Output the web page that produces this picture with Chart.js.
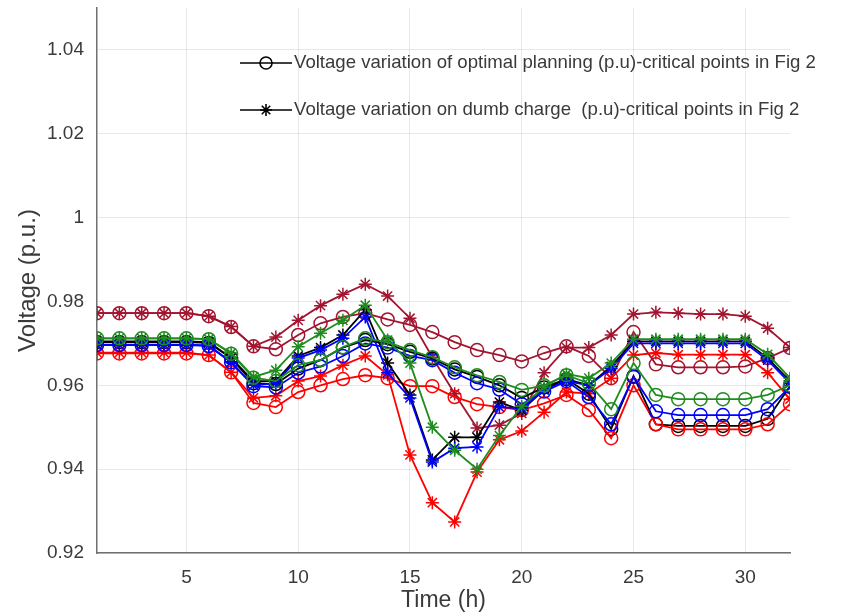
<!DOCTYPE html>
<html lang="en">
<head>
<meta charset="UTF-8">
<title>Voltage variation</title>
<script src="https://cdn.jsdelivr.net/npm/chart.js"></script>
<style>
  body { margin: 0; background: #fff; }
  .chart-box { width: 850px; height: 616px; }
</style>
</head>
<body>
<div class="chart-box"><canvas id="voltageChart" width="850" height="616"></canvas></div>
<script>
// x categories (hours) and axis ticks
const hours = [1, 2, 3, 4, 5, 6, 7, 8, 9, 10, 11, 12, 13, 14, 15, 16,
               17, 18, 19, 20, 21, 22, 23, 24, 25, 26, 27, 28, 29, 30, 31, 32];
const xTicks = [5, 10, 15, 20, 25, 30];
const yTicks = [0.92, 0.94, 0.96, 0.98, 1, 1.02, 1.04];

const legendLabels = [
    'Voltage variation of optimal planning (p.u)-critical points in Fig 2',
    'Voltage variation on dumb charge  (p.u)-critical points in Fig 2'
];

// optimal planning (circle markers)
const maroonOpt = [0.9772, 0.9772, 0.9772, 0.9772, 0.9772, 0.9765, 0.9739, 0.9693, 0.9686, 0.9720, 0.9748, 0.9763, 0.9772, 0.9757, 0.9744, 0.9727,
                   0.9703, 0.9684, 0.9672, 0.9657, 0.9677, 0.9693, 0.9670, 0.9617, 0.9727, 0.9650, 0.9643, 0.9643, 0.9643, 0.9645, 0.9665, 0.9689];
const greenOpt  = [0.9712, 0.9712, 0.9712, 0.9712, 0.9712, 0.9710, 0.9675, 0.9618, 0.9610, 0.9648, 0.9660, 0.9691, 0.9712, 0.9703, 0.9684, 0.9667,
                   0.9643, 0.9624, 0.9608, 0.9589, 0.9600, 0.9624, 0.9605, 0.9543, 0.9653, 0.9577, 0.9567, 0.9567, 0.9567, 0.9567, 0.9577, 0.9600];
const blackOpt  = [0.9703, 0.9703, 0.9703, 0.9703, 0.9703, 0.9701, 0.9665, 0.9605, 0.9603, 0.9640, 0.9660, 0.9690, 0.9708, 0.9698, 0.9680, 0.9664,
                   0.9638, 0.9620, 0.9600, 0.9570, 0.9595, 0.9615, 0.9580, 0.9496, 0.9622, 0.9507, 0.9503, 0.9503, 0.9503, 0.9503, 0.9520, 0.9598];
const blueOpt   = [0.9696, 0.9696, 0.9696, 0.9696, 0.9696, 0.9694, 0.9655, 0.9598, 0.9595, 0.9630, 0.9645, 0.9670, 0.9700, 0.9690, 0.9670, 0.9660,
                   0.9630, 0.9605, 0.9590, 0.9555, 0.9585, 0.9610, 0.9572, 0.9507, 0.9620, 0.9538, 0.9529, 0.9529, 0.9529, 0.9529, 0.9543, 0.9596];
const redOpt    = [0.9676, 0.9676, 0.9676, 0.9676, 0.9676, 0.9672, 0.9631, 0.9558, 0.9548, 0.9584, 0.9600, 0.9615, 0.9624, 0.9617, 0.9598, 0.9598,
                   0.9572, 0.9555, 0.9548, 0.9541, 0.9557, 0.9577, 0.9541, 0.9474, 0.9600, 0.9507, 0.9495, 0.9495, 0.9495, 0.9495, 0.9507, 0.9555];

// dumb charge (star markers)
const maroonDumb = [0.9772, 0.9772, 0.9772, 0.9772, 0.9772, 0.9765, 0.9740, 0.9693, 0.9715, 0.9755, 0.9790, 0.9817, 0.9841, 0.9813, 0.9760, 0.9667,
                    0.9580, 0.9498, 0.9505, 0.9533, 0.9630, 0.9690, 0.9690, 0.9720, 0.9770, 0.9774, 0.9772, 0.9770, 0.9770, 0.9765, 0.9736, 0.9690];
const greenDumb  = [0.9712, 0.9712, 0.9712, 0.9712, 0.9712, 0.9710, 0.9677, 0.9620, 0.9636, 0.9692, 0.9724, 0.9755, 0.9791, 0.9708, 0.9653, 0.9500,
                    0.9445, 0.9400, 0.9480, 0.9550, 0.9596, 0.9627, 0.9617, 0.9653, 0.9710, 0.9710, 0.9710, 0.9710, 0.9710, 0.9710, 0.9674, 0.9617];
const blackDumb  = [0.9705, 0.9705, 0.9705, 0.9705, 0.9705, 0.9703, 0.9665, 0.9610, 0.9610, 0.9670, 0.9690, 0.9720, 0.9780, 0.9653, 0.9577, 0.9422,
                    0.9476, 0.9476, 0.9560, 0.9540, 0.9590, 0.9615, 0.9600, 0.9645, 0.9705, 0.9705, 0.9705, 0.9705, 0.9705, 0.9705, 0.9665, 0.9610];
const blueDumb   = [0.9697, 0.9697, 0.9697, 0.9697, 0.9697, 0.9695, 0.9655, 0.9600, 0.9605, 0.9665, 0.9684, 0.9712, 0.9763, 0.9630, 0.9570, 0.9417,
                    0.9450, 0.9453, 0.9548, 0.9545, 0.9589, 0.9610, 0.9600, 0.9640, 0.9700, 0.9700, 0.9700, 0.9700, 0.9700, 0.9700, 0.9660, 0.9605];
const redDumb    = [0.9678, 0.9678, 0.9678, 0.9678, 0.9678, 0.9672, 0.9631, 0.9570, 0.9575, 0.9610, 0.9622, 0.9648, 0.9670, 0.9625, 0.9434, 0.9320,
                    0.9274, 0.9393, 0.9470, 0.9491, 0.9536, 0.9584, 0.9580, 0.9617, 0.9672, 0.9677, 0.9673, 0.9673, 0.9673, 0.9673, 0.9630, 0.9567];

const MAROON = '#A2142F';
const GREEN = '#1E8C1E';
const BLUE = '#0000FF';
const RED = '#FF0000';
const BLACK = '#000000';
const TEXT = '#3a3a3a';
const SANS = '"Liberation Sans", Arial, sans-serif';

function series(values, color, marker, order) {
    return {
        data: values.map((v, i) => ({ x: hours[i], y: v })),
        borderColor: color,
        backgroundColor: 'rgba(0,0,0,0)',
        borderWidth: 1.8,
        pointStyle: marker,
        pointRadius: 6.5,
        pointBorderWidth: 1.5,
        pointBorderColor: color,
        pointBackgroundColor: 'rgba(0,0,0,0)',
        tension: 0,
        order: order
    };
}

// black legend drawn inside the plot, like the original figure
const insideLegend = {
    id: 'insideLegend',
    afterDraw(chart) {
        const ctx = chart.ctx;
        const a = chart.chartArea;
        const x0 = a.left + 143;
        const rows = [a.top + 55, a.top + 102];
        ctx.save();
        ctx.strokeStyle = BLACK;
        ctx.lineWidth = 1.6;
        rows.forEach((y, i) => {
            ctx.beginPath();
            ctx.moveTo(x0, y);
            ctx.lineTo(x0 + 52, y);
            ctx.stroke();
            const cx = x0 + 26;
            ctx.beginPath();
            if (i === 0) {
                ctx.arc(cx, y, 6, 0, Math.PI * 2);
            } else {
                for (let k = 0; k < 4; k++) {
                    const ang = k * Math.PI / 4;
                    ctx.moveTo(cx - 6 * Math.cos(ang), y - 6 * Math.sin(ang));
                    ctx.lineTo(cx + 6 * Math.cos(ang), y + 6 * Math.sin(ang));
                }
            }
            ctx.stroke();
            ctx.fillStyle = TEXT;
            ctx.font = '18.6px ' + SANS;
            ctx.textBaseline = 'middle';
            ctx.fillText(legendLabels[i], x0 + 54, y);
        });
        ctx.restore();
    }
};

const ctx = document.getElementById('voltageChart').getContext('2d');
const myChart = new Chart(ctx, {
    type: 'line',
    data: {
        datasets: [
            series(greenDumb, GREEN, 'star', 1),
            series(greenOpt, GREEN, 'circle', 2),
            series(blueDumb, BLUE, 'star', 3),
            series(blueOpt, BLUE, 'circle', 4),
            series(blackDumb, BLACK, 'star', 5),
            series(redOpt, RED, 'circle', 6),
            series(blackOpt, BLACK, 'circle', 7),
            series(redDumb, RED, 'star', 8),
            series(maroonDumb, MAROON, 'star', 9),
            series(maroonOpt, MAROON, 'circle', 10)
        ]
    },
    options: {
        responsive: false,
        animation: false,
        devicePixelRatio: 1,
        layout: { padding: { left: 0, right: 60, top: 8, bottom: 0 } },
        plugins: {
            legend: { display: false },
            tooltip: { enabled: false }
        },
        scales: {
            x: {
                type: 'linear',
                min: 1,
                max: 32,
                afterBuildTicks: s => { s.ticks = xTicks.map(v => ({ value: v })); },
                afterFit: s => { s.height = 63; s.paddingLeft = 0; s.paddingRight = 0; },
                grid: { color: 'rgba(0,0,0,0.09)', drawTicks: false },
                border: { color: '#707070', width: 1.5 },
                ticks: {
                    color: TEXT,
                    padding: 13,
                    font: { size: 19, family: SANS }
                },
                title: {
                    display: true,
                    text: 'Time (h)',
                    color: TEXT,
                    padding: { top: 0, bottom: 2 },
                    font: { size: 23, family: SANS }
                }
            },
            y: {
                min: 0.92,
                max: 1.05,
                afterBuildTicks: s => { s.ticks = yTicks.map(v => ({ value: v })); },
                afterFit: s => { s.width = 97; s.paddingTop = 0; s.paddingBottom = 0; },
                grid: { color: 'rgba(0,0,0,0.09)', drawTicks: false },
                border: { color: '#707070', width: 1.5 },
                ticks: {
                    color: TEXT,
                    padding: 13,
                    callback: v => String(+v.toFixed(2)),
                    font: { size: 19, family: SANS }
                },
                title: {
                    display: true,
                    text: 'Voltage (p.u.)',
                    color: TEXT,
                    padding: { top: 14, bottom: 0 },
                    font: { size: 24, family: SANS }
                }
            }
        }
    },
    plugins: [insideLegend]
});
</script>
</body>
</html>
